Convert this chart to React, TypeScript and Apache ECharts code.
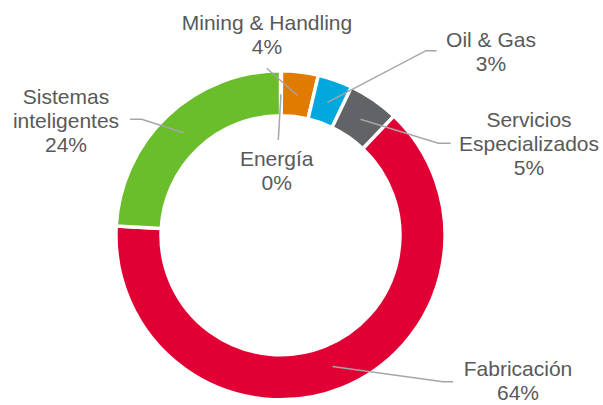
import React, { useEffect, useRef } from "react";
import * as echarts from "echarts";

const categories = [
  "Energía",
  "Mining & Handling",
  "Oil & Gas",
  "Servicios\nEspecializados",
  "Fabricación",
  "Sistemas\ninteligentes",
];
const values = [0.1, 3.6, 3.4, 5.0, 63.8, 24.1];
const colors = ["#9E9E9E", "#E07B00", "#00A8DE", "#626366", "#E10033", "#6ABD2B"];

// label layout (pixel positions of label block centers and leader-line elbows)
const labelCenters = [
  [276.7, 170],
  [267, 34.4],
  [491, 51.5],
  [529, 143.4],
  [518, 380.5],
  [66, 120.3],
];
const leaderEnds = [
  [[278.3, 140]],
  [[266.7, 68.3]],
  [[426, 50.7], [436.7, 50.7]],
  [[438.3, 143.3], [450.7, 143.3]],
  [[443, 381.7], [453, 381.7]],
  [[141.7, 119.3], [130, 119.3]],
];

const CX = 280.5;
const CY = 235.3;
const R_IN = 119.5;
const R_OUT = 164.5;

export default function App() {
  const ref = useRef<HTMLDivElement>(null);
  useEffect(() => {
    if (!ref.current) return;
    const chart = echarts.init(ref.current, null, { renderer: "svg" });
    const total = values.reduce((a, b) => a + b, 0);
    const mids: number[] = [];
    let acc = 0;
    values.forEach((v) => {
      mids.push(((acc + v / 2) / total) * 360);
      acc += v;
    });
    const rMid = (R_IN + R_OUT) / 2 - 1;
    const common = {
      type: "pie",
      center: [CX, CY],
      radius: [R_IN, R_OUT],
      startAngle: 90,
      clockwise: true,
      avoidLabelOverlap: false,
      silent: true,
      minShowLabelAngle: 0,
    };
    chart.setOption({
      animation: false,
      backgroundColor: "#ffffff",
      series: [
        {
          ...common,
          z: 2,
          itemStyle: { borderColor: "#ffffff", borderWidth: 3.4 },
          label: { show: false },
          labelLine: { show: false },
          data: categories.map((name, i) => ({
            name,
            value: values[i],
            itemStyle: { color: colors[i] },
          })),
        },
        {
          ...common,
          z: 5,
          itemStyle: { color: "rgba(0,0,0,0)", borderWidth: 0 },
          label: {
            show: true,
            position: "outside",
            color: "#595959",
            fontFamily: "Liberation Sans, Arial, sans-serif",
            fontSize: 21,
            lineHeight: 24,
            align: "center",
            formatter: (p: any) => `${p.name}\n${Math.round(p.percent)}%`,
          },
          labelLine: {
            show: true,
            showAbove: true,
            lineStyle: { color: "#A6A6A6", width: 1.5 },
          },
          labelLayout: (params: any) => {
            const i = params.dataIndex;
            const a = (mids[i] * Math.PI) / 180;
            const start = [CX + rMid * Math.sin(a), CY - rMid * Math.cos(a)];
            const ends = leaderEnds[i];
            const pts = ends.length === 1 ? [start, ends[0], ends[0]] : [start, ends[0], ends[1]];
            return {
              x: labelCenters[i][0],
              y: labelCenters[i][1],
              align: "center",
              verticalAlign: "middle",
              labelLinePoints: pts,
            };
          },
          data: categories.map((name, i) => ({ name, value: values[i] })),
        },
      ],
    });
    return () => chart.dispose();
  }, []);
  return (
    <div
      ref={ref}
      style={{ position: "fixed", left: 0, top: 0, width: 603, height: 405 }}
    />
  );
}
